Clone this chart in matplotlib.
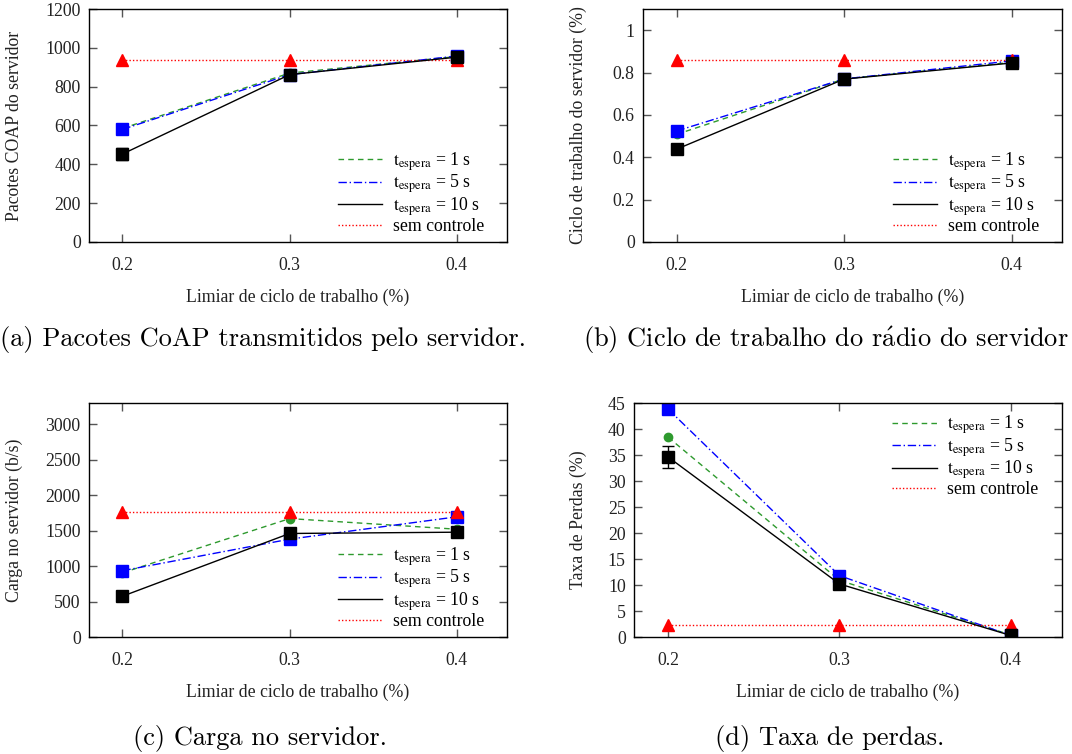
import matplotlib
matplotlib.use("Agg")
import matplotlib.pyplot as plt
from matplotlib.lines import Line2D

plt.rcParams['font.family'] = ['Liberation Serif', 'DejaVu Serif']
plt.rcParams['mathtext.fontset'] = 'stix'

x = [0.2, 0.3, 0.4]
xticks = [0.2, 0.3, 0.4]
labels = [r'$\mathrm{t}_{\mathrm{espera}}$ = 1 s', r'$\mathrm{t}_{\mathrm{espera}}$ = 5 s',
          r'$\mathrm{t}_{\mathrm{espera}}$ = 10 s', 'sem controle']

# (a) Pacotes CoAP do servidor
a_t1 = [585, 870, 955]
a_t5 = [580, 862, 958]
a_t10 = [453, 862, 952]
a_t10_err = [32, 10, 8]
a_sem = [936, 936, 936]

# (b) Ciclo de trabalho do servidor
b_t1 = [0.508, 0.770, 0.848]
b_t5 = [0.524, 0.770, 0.855]
b_t10 = [0.438, 0.769, 0.845]
b_t10_err = [0.01, 0.01, 0.01]
b_sem = [0.857, 0.857, 0.857]

# (c) Carga no servidor
c_t1 = [905, 1670, 1520]
c_t5 = [935, 1380, 1695]
c_t10 = [575, 1460, 1478]
c_t10_err = [20, 20, 20]
c_sem = [1757, 1757, 1757]

# (d) Taxa de perdas
d_t1 = [38.4, 10.9, 0.4]
d_t5 = [43.8, 11.8, 0.3]
d_t10 = [34.6, 10.2, 0.3]
d_t10_err = [2.1, 0.3, 0.1]
d_sem = [2.4, 2.4, 2.4]

W, H = 1072, 754
fig = plt.figure(figsize=(W / 100, H / 100), dpi=100)

def px_axes(l, t, r, b):
    return fig.add_axes([l / W, 1 - b / H, (r - l) / W, (b - t) / H])

FS = 12.8
GREEN = '#2e9a2e'

def draw(ax, t1, t5, t10, t10err, sem, ylim, yticks, ylabel, ylab_x, leg_loc, leg_anchor):
    ax.plot(x, t1, color=GREEN, ls=(0, (4, 3)), lw=1.0, marker='o', ms=6, mfc=GREEN, mec=GREEN, label=labels[0])
    ax.plot(x, t5, color='#0000ff', ls=(0, (6, 2, 1, 2)), lw=1.0, marker='s', ms=8, mfc='#0000ff', mec='#0000ff', label=labels[1])
    ax.errorbar(x, t10, yerr=t10err, color='black', ls='-', lw=1.0, marker='s', ms=8, capsize=4, elinewidth=1, label=labels[2])
    ax.plot(x, sem, color='#ff0000', ls=(0, (1, 1.5)), lw=1.0, marker='^', ms=8, mfc='#ff0000', mec='#ff0000', label=labels[3])
    ax.set_xlim(0.18, 0.43)
    ax.set_ylim(*ylim)
    ax.set_xticks(xticks)
    ax.set_xticklabels([str(v) for v in xticks])
    ax.set_yticks(yticks)
    ax.tick_params(direction='in', top=True, right=True, length=6, width=1, color='#555555',
                   labelsize=FS, labelcolor='#222222')
    ax.tick_params(axis='x', pad=11)
    ax.tick_params(axis='y', pad=6)
    for s in ax.spines.values():
        s.set_linewidth(1.0)
    ax.set_xlabel('Limiar de ciclo de trabalho (%)', fontsize=FS, color='#222222')
    ax.xaxis.set_label_coords(0.5, -0.20)
    ax.set_ylabel(ylabel, fontsize=FS, color='#222222')
    ax.yaxis.set_label_coords(ylab_x, 0.5)
    hs = [Line2D([], [], color=GREEN, ls=(0, (4, 3)), lw=1.0),
          Line2D([], [], color='#0000ff', ls=(0, (6, 2, 1, 2)), lw=1.0),
          Line2D([], [], color='black', ls='-', lw=1.0),
          Line2D([], [], color='#ff0000', ls=(0, (1, 1.5)), lw=1.0)]
    ax.legend(hs, labels, loc=leg_loc, bbox_to_anchor=leg_anchor, frameon=False, fontsize=FS,
              handlelength=2.5, handletextpad=0.6, labelspacing=0.0, borderpad=0, borderaxespad=0)

ax_a = px_axes(89, 9, 507, 242)
draw(ax_a, a_t1, a_t5, a_t10, a_t10_err, a_sem, (0, 1200), [0, 200, 400, 600, 800, 1000, 1200],
     'Pacotes COAP do servidor', -0.158, 'lower right', (0.945, 0.03))

ax_b = px_axes(643, 9, 1062, 242)
draw(ax_b, b_t1, b_t5, b_t10, b_t10_err, b_sem, (0, 1.1), [0, 0.2, 0.4, 0.6, 0.8, 1],
     'Ciclo de trabalho do servidor (%)', -0.134, 'lower right', (0.945, 0.03))
ax_b.set_yticklabels(['0', '0.2', '0.4', '0.6', '0.8', '1'])

ax_c = px_axes(89, 403, 507, 637)
draw(ax_c, c_t1, c_t5, c_t10, c_t10_err, c_sem, (0, 3300), [0, 500, 1000, 1500, 2000, 2500, 3000],
     'Carga no servidor (b/s)', -0.158, 'lower right', (0.945, 0.03))

ax_d = px_axes(634, 403, 1062, 637)
draw(ax_d, d_t1, d_t5, d_t10, d_t10_err, d_sem, (0, 45), [0, 5, 10, 15, 20, 25, 30, 35, 40, 45],
     'Taxa de Perdas (%)', -0.110, 'upper right', (0.945, 0.955))

cap_kw = dict(fontsize=19, family=['cmr10', 'DejaVu Serif'], math_fontfamily='cm', va='center', ha='left')
fig.text(0 / W, 1 - 340 / H, '(a) Pacotes CoAP transmitidos pelo servidor.', **cap_kw)
fig.text(583 / W, 1 - 340 / H, r'(b) Ciclo de trabalho do r$\mathrm{\acute{a}}$dio do servidor', **cap_kw)
fig.text(133 / W, 1 - 738 / H, '(c) Carga no servidor.', **cap_kw)
fig.text(715 / W, 1 - 738 / H, '(d) Taxa de perdas.', **cap_kw)

fig.savefig('out.png', dpi=100)
